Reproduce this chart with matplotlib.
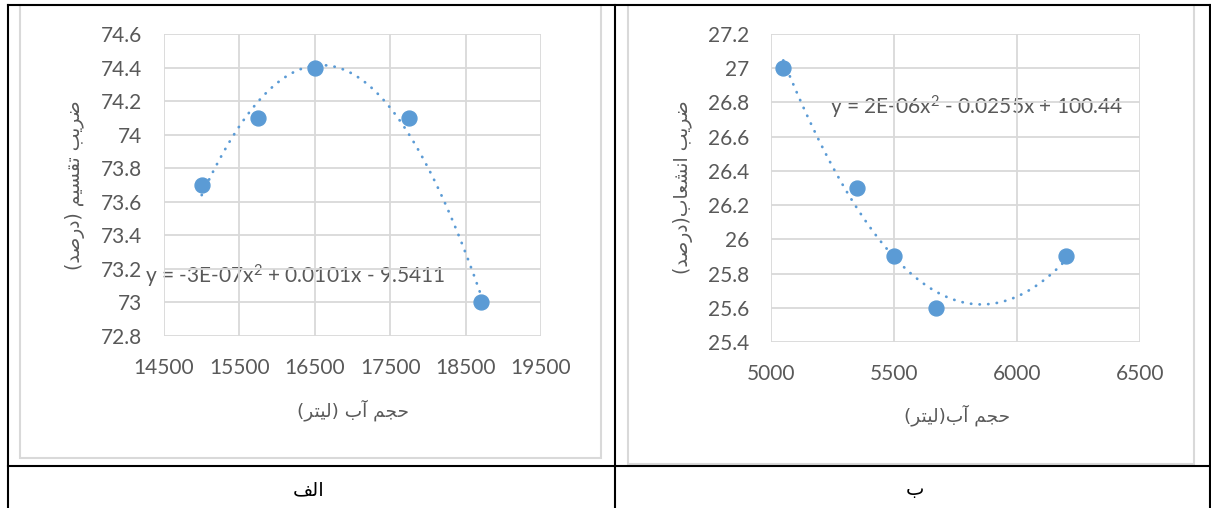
import matplotlib.pyplot as plt
import numpy as np
from matplotlib.patches import Rectangle

# Data: chart "alef" (left)
water_a = [15000, 15750, 16500, 17750, 18700]
coef_a = [73.7, 74.1, 74.4, 74.1, 73.0]
eq_a = "y = -3E-07x$^{\\mathregular{2}}$ + 0.0101x - 9.5411"
xticks_a = [14500, 15500, 16500, 17500, 18500, 19500]
yticks_a = [72.8, 73, 73.2, 73.4, 73.6, 73.8, 74, 74.2, 74.4, 74.6]

# Data: chart "be" (right)
water_b = [5050, 5350, 5500, 5670, 6200]
coef_b = [27.0, 26.3, 25.9, 25.6, 25.9]
eq_b = "y = 2E-06x$^{\\mathregular{2}}$ - 0.0255x + 100.44"
xticks_b = [5000, 5500, 6000, 6500]
yticks_b = [25.4, 25.6, 25.8, 26, 26.2, 26.4, 26.6, 26.8, 27, 27.2]

ylabel_a = "ضریب تقسیم (درصد)"
ylabel_b = "ضریب انشعاب(درصد)"
xlabel_a = "حجم آب (لیتر)"
xlabel_b = "حجم آب(لیتر)"
caption_a = "الف"
caption_b = "ب"

plt.rcParams['mathtext.fontset'] = 'custom'
plt.rcParams['mathtext.rm'] = 'Lato'
plt.rcParams['mathtext.it'] = 'Lato:italic'

# Arabic shaping (matplotlib has no complex text layout)
FORMS = {
    'ا': ('\uFE8D', '\uFE8E', None, None),
    'آ': ('\uFE81', '\uFE82', None, None),
    'د': ('\uFEA9', '\uFEAA', None, None),
    'ر': ('\uFEAD', '\uFEAE', None, None),
    'ب': ('\uFE8F', '\uFE90', '\uFE91', '\uFE92'),
    'ت': ('\uFE95', '\uFE96', '\uFE97', '\uFE98'),
    'ج': ('\uFE9D', '\uFE9E', '\uFE9F', '\uFEA0'),
    'ح': ('\uFEA1', '\uFEA2', '\uFEA3', '\uFEA4'),
    'س': ('\uFEB1', '\uFEB2', '\uFEB3', '\uFEB4'),
    'ش': ('\uFEB5', '\uFEB6', '\uFEB7', '\uFEB8'),
    'ص': ('\uFEB9', '\uFEBA', '\uFEBB', '\uFEBC'),
    'ض': ('\uFEBD', '\uFEBE', '\uFEBF', '\uFEC0'),
    'ع': ('\uFEC9', '\uFECA', '\uFECB', '\uFECC'),
    'ف': ('\uFED1', '\uFED2', '\uFED3', '\uFED4'),
    'ق': ('\uFED5', '\uFED6', '\uFED7', '\uFED8'),
    'ل': ('\uFEDD', '\uFEDE', '\uFEDF', '\uFEE0'),
    'م': ('\uFEE1', '\uFEE2', '\uFEE3', '\uFEE4'),
    'ن': ('\uFEE5', '\uFEE6', '\uFEE7', '\uFEE8'),
    'ی': ('\uFEEF', '\uFEF0', '\uFEF3', '\uFEF4'),
}


def shape(s):
    out = []
    for i, c in enumerate(s):
        if c not in FORMS:
            out.append(c)
            continue
        f = FORMS[c]
        prev = s[i - 1] if i > 0 else ''
        nxt = s[i + 1] if i + 1 < len(s) else ''
        jp = prev in FORMS and FORMS[prev][2] is not None
        jn = f[2] is not None and nxt in FORMS
        idx = 3 if (jp and jn) else 2 if jn else 1 if jp else 0
        out.append(f[idx])
    mirror = {'(': ')', ')': '('}
    return ''.join(mirror.get(c, c) for c in reversed(out))


W, H = 1211, 508
fig = plt.figure(figsize=(W / 100, H / 100), dpi=100)

# background / table layer in pixel coords
bg = fig.add_axes([0, 0, 1, 1])
bg.set_xlim(0, W)
bg.set_ylim(H, 0)
bg.axis('off')

frame_col = '#D9D9D9'
bg.add_patch(Rectangle((20, 5), 581, 453, fill=False, ec=frame_col, lw=1.5))
bg.add_patch(Rectangle((628, 5), 566, 459, fill=False, ec=frame_col, lw=1.5))

k = dict(color='black', lw=1.5, solid_capstyle='projecting')
bg.plot([8, 1210], [5, 5], **k)
bg.plot([8, 1210], [466, 466], **k)
bg.plot([8, 8], [5, H], **k)
bg.plot([615, 615], [5, H], **k)
bg.plot([1210, 1210], [5, H], **k)

ar = ['DejaVu Sans']
lab_col = '#595959'
bg.text(75, 185, shape(ylabel_a), rotation=90, ha='center', va='center',
        family=ar, fontsize=13.5, color=lab_col)
bg.text(683, 187, shape(ylabel_b), rotation=90, ha='center', va='center',
        family=ar, fontsize=13.5, color=lab_col)
bg.text(353, 410, shape(xlabel_a), ha='center', va='center',
        family=ar, fontsize=13.3, color=lab_col)
bg.text(957, 415, shape(xlabel_b), ha='center', va='center',
        family=ar, fontsize=13.3, color=lab_col)
bg.text(309, 490, shape(caption_a), ha='center', va='center',
        family=ar, fontsize=14, color='black')
bg.text(915, 490, shape(caption_b), ha='center', va='center',
        family=ar, fontsize=14, color='black')

blue = '#5B9BD5'
num_font = 'Lato'


def chart(box, xs, ys, xticks, yticks, eq, eq_pos):
    l, t, r, b = box
    ax = fig.add_axes([l / W, 1 - b / H, (r - l) / W, (b - t) / H])
    ax.patch.set_alpha(0)
    ax.set_xlim(xticks[0], xticks[-1])
    ax.set_ylim(yticks[0], yticks[-1])
    ax.set_xticks(xticks)
    ax.set_yticks(yticks)
    ax.set_xticklabels([str(v) for v in xticks])
    ax.set_yticklabels([f'{v:g}' for v in yticks])
    for s in ax.spines.values():
        s.set_visible(False)
    ax.grid(True, color=frame_col, lw=1.3)
    ax.set_axisbelow(True)
    ax.tick_params(length=0, labelsize=15, labelcolor=lab_col, pad=16)
    for lbl in ax.get_xticklabels() + ax.get_yticklabels():
        lbl.set_family(num_font)
    # quadratic trendline fitted to the data
    p = np.polyfit(xs, ys, 2)
    xx = np.linspace(min(xs), max(xs), 200)
    ax.plot(xx, np.polyval(p, xx), color=blue, lw=2,
            linestyle=(0, (0.1, 3)), dash_capstyle='round', zorder=2)
    ax.scatter(xs, ys, s=115, color=blue, zorder=3, clip_on=False)
    bg.text(eq_pos[0], eq_pos[1], eq, ha='left', va='center',
            family=num_font, fontsize=15, color=lab_col, zorder=5)
    return ax


chart((164, 34, 541, 336), water_a, coef_a, xticks_a, yticks_a, eq_a, (145, 276))
chart((771, 34, 1140, 342), water_b, coef_b, xticks_b, yticks_b, eq_b, (830, 107))

fig.savefig('out.png', dpi=100)
